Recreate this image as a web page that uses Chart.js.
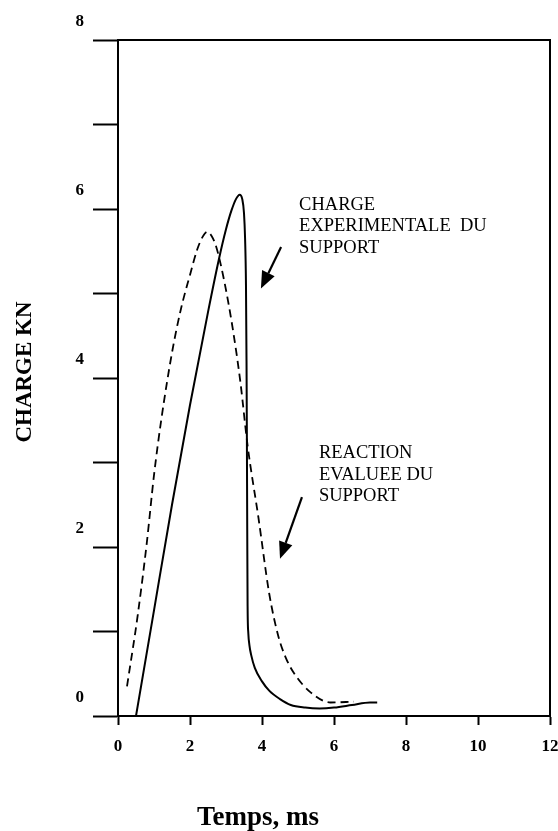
<!DOCTYPE html>
<html>
<head>
<meta charset="utf-8">
<script src="https://cdn.jsdelivr.net/npm/chart.js@4/dist/chart.umd.min.js"></script>
<style>
  html, body { margin: 0; padding: 0; background: #fff; }
  canvas { display: block; }
</style>
</head>
<body>
<canvas id="chart" width="558" height="831"></canvas>
<script>
// Measured support load (solid line): time in ms, load in kN
const expTime = [0.5, 1.0, 1.5, 2.0, 2.5, 2.8, 3.0, 3.15, 3.28, 3.38, 3.45, 3.5, 3.53, 3.555, 3.57, 3.58, 3.59, 3.6, 3.62, 3.65, 3.7, 3.8, 4.0, 4.2, 4.5, 4.8, 5.2, 5.6, 6.0, 6.5, 7.0, 7.2];
const expLoad = [0, 1.25, 2.5, 3.68, 4.78, 5.4, 5.76, 5.98, 6.12, 6.17, 6.12, 5.95, 5.65, 5.1, 4.2, 3.3, 2.2, 1.3, 0.98, 0.84, 0.72, 0.57, 0.41, 0.3, 0.2, 0.13, 0.1, 0.09, 0.1, 0.13, 0.16, 0.16];

// Evaluated support reaction (dashed line)
const evalTime = [0.25, 0.55, 0.8, 1.0, 1.2, 1.5, 1.75, 2.0, 2.2, 2.35, 2.48, 2.6, 2.73, 2.95, 3.2, 3.4, 3.6, 3.9, 4.2, 4.45, 4.65, 4.9, 5.35, 5.9, 6.55];
const evalLoad = [0.35, 1.2, 2.05, 2.85, 3.5, 4.3, 4.82, 5.22, 5.52, 5.67, 5.73, 5.68, 5.55, 5.15, 4.55, 3.95, 3.2, 2.35, 1.45, 0.95, 0.7, 0.5, 0.28, 0.16, 0.17];

// Axis ranges and labels
const xRange = [0, 12];
const yRange = [0, 8];
const xTitle = 'Temps, ms';
const yTitle = 'CHARGE KN';

// Callout texts with their anchor (data units) and arrows [fromX, fromY, toX, toY]
const noteExpLines = ['CHARGE', 'EXPERIMENTALE  DU', 'SUPPORT'];
const noteExpAnchor = [5.03, 6.05];
const arrowExp = [4.53, 5.55, 3.97, 5.06];
const noteEvalLines = ['REACTION', 'EVALUEE DU', 'SUPPORT'];
const noteEvalAnchor = [5.58, 3.11];
const arrowEval = [5.11, 2.59, 4.5, 1.86];

const SERIF = '"Liberation Serif", "Times New Roman", serif';

const toPoints = (xs, ys) => xs.map((x, i) => ({ x, y: ys[i] }));

function drawArrow(ctx, x1, y1, x2, y2) {
  const ang = Math.atan2(y2 - y1, x2 - x1);
  const headLen = 17, headHalf = 7;
  const bx = x2 - headLen * Math.cos(ang), by = y2 - headLen * Math.sin(ang);
  ctx.beginPath();
  ctx.moveTo(x1, y1);
  ctx.lineTo(bx, by);
  ctx.lineWidth = 2.2;
  ctx.strokeStyle = '#000';
  ctx.stroke();
  ctx.beginPath();
  ctx.moveTo(x2, y2);
  ctx.lineTo(bx + headHalf * Math.sin(ang), by - headHalf * Math.cos(ang));
  ctx.lineTo(bx - headHalf * Math.sin(ang), by + headHalf * Math.cos(ang));
  ctx.closePath();
  ctx.fillStyle = '#000';
  ctx.fill();
}

const decorations = {
  id: 'decorations',
  afterDraw(chart) {
    const { ctx, chartArea: a, scales: { x, y } } = chart;
    ctx.save();
    // frame: top and right edges of the plot
    ctx.strokeStyle = '#000';
    ctx.lineWidth = 2;
    ctx.beginPath();
    ctx.moveTo(a.left, a.top);
    ctx.lineTo(a.right, a.top);
    ctx.lineTo(a.right, a.bottom);
    ctx.stroke();

    // callouts
    ctx.font = '18.5px ' + SERIF;
    ctx.fillStyle = '#000';
    ctx.textAlign = 'left';
    ctx.textBaseline = 'middle';
    const drawNote = (lines, anchor) => {
      const px = x.getPixelForValue(anchor[0]);
      const py = y.getPixelForValue(anchor[1]);
      lines.forEach((t, i) => ctx.fillText(t, px, py + i * 21.7));
    };
    drawNote(noteExpLines, noteExpAnchor);
    drawNote(noteEvalLines, noteEvalAnchor);
    [arrowExp, arrowEval].forEach(r => drawArrow(ctx,
      x.getPixelForValue(r[0]), y.getPixelForValue(r[1]),
      x.getPixelForValue(r[2]), y.getPixelForValue(r[3])));

    // axis titles
    ctx.textAlign = 'center';
    ctx.font = 'bold 27px ' + SERIF;
    ctx.fillText(xTitle, a.left + 140, a.bottom + 102);
    ctx.save();
    ctx.translate(25, (a.top + a.bottom) / 2 - 6);
    ctx.rotate(-Math.PI / 2);
    ctx.font = 'bold 23px ' + SERIF;
    ctx.fillText(yTitle, 0, 0);
    ctx.restore();
    ctx.restore();
  }
};

new Chart(document.getElementById('chart'), {
  type: 'line',
  data: {
    datasets: [
      {
        label: 'Charge expérimentale du support',
        data: toPoints(expTime, expLoad),
        borderColor: '#000',
        borderWidth: 2,
        pointRadius: 0,
        cubicInterpolationMode: 'monotone',
        fill: false
      },
      {
        label: 'Réaction évaluée du support',
        data: toPoints(evalTime, evalLoad),
        borderColor: '#000',
        borderWidth: 1.8,
        borderDash: [8, 5],
        pointRadius: 0,
        cubicInterpolationMode: 'monotone',
        fill: false
      }
    ]
  },
  options: {
    responsive: false,
    animation: false,
    layout: { padding: { top: 40, right: 8, left: 0, bottom: 0 } },
    plugins: { legend: { display: false }, tooltip: { enabled: false } },
    scales: {
      x: {
        type: 'linear',
        min: xRange[0],
        max: xRange[1],
        afterFit: s => { s.height = 115; s.paddingRight = 0; s.paddingLeft = 0; },
        border: { display: true, color: '#000', width: 2 },
        grid: { drawOnChartArea: false, drawTicks: true, tickLength: 9, tickWidth: 2, tickColor: '#000' },
        ticks: {
          stepSize: 2,
          color: '#000',
          padding: 11,
          maxRotation: 0,
          font: { family: SERIF, size: 17, weight: 'bold' }
        }
      },
      y: {
        type: 'linear',
        min: yRange[0],
        max: yRange[1],
        afterFit: s => { s.width = 118; s.paddingTop = 0; s.paddingBottom = 0; },
        border: { display: true, color: '#000', width: 2 },
        grid: { drawOnChartArea: false, drawTicks: true, tickLength: 25, tickWidth: 2, tickColor: '#000' },
        ticks: {
          stepSize: 1,
          color: '#000',
          padding: 9,
          labelOffset: -18,
          callback: v => (v % 2 === 0 ? String(v) : ''),
          font: { family: SERIF, size: 17, weight: 'bold' }
        }
      }
    }
  },
  plugins: [decorations]
});
</script>
</body>
</html>
